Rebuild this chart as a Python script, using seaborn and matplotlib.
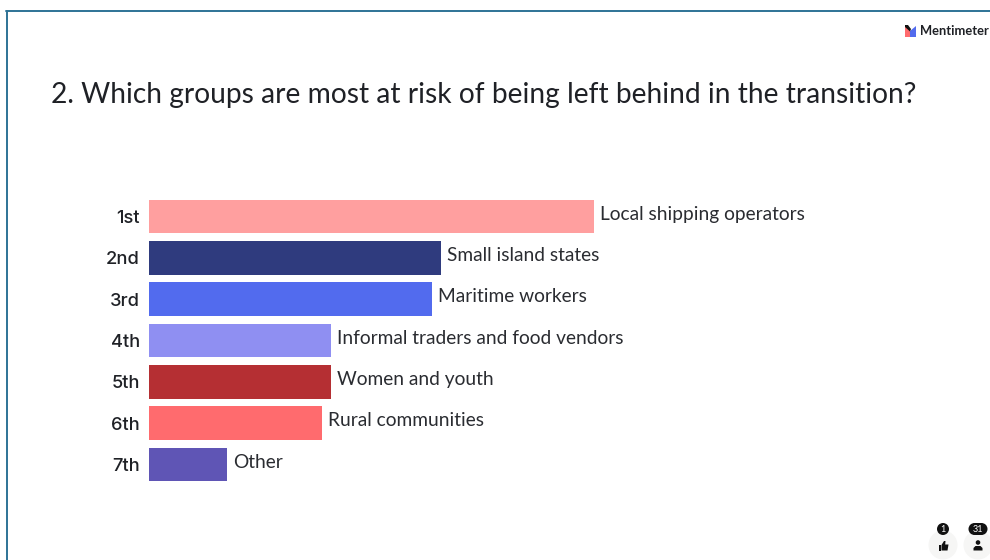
import matplotlib
matplotlib.use("Agg")
import matplotlib.pyplot as plt
from matplotlib.patches import Circle, Polygon, Rectangle
import pandas as pd
import seaborn as sns

# Poll results, in rank order
ranks = ["1st", "2nd", "3rd", "4th", "5th", "6th", "7th"]
groups = [
    "Local shipping operators",
    "Small island states",
    "Maritime workers",
    "Informal traders and food vendors",
    "Women and youth",
    "Rural communities",
    "Other",
]
scores = [49.0, 32.2, 31.2, 20.1, 20.1, 19.1, 8.6]
bar_colors = ["#FF9F9F", "#2F3B7E", "#526BEE", "#8F8FF2", "#B52F33", "#FF6B6E", "#5F55B5"]

title = "2. Which groups are most at risk of being left behind in the transition?"
brand = "Mentimeter"
likes = "1"
voters = "31"

W, H = 990, 560
FONT = "Lato"
INK = "#1F2126"

sns.set_theme(style="white")
plt.rcParams["font.family"] = [FONT, "DejaVu Sans"]

df = pd.DataFrame({"rank": ranks, "group": groups, "score": scores})

fig = plt.figure(figsize=(W / 100, H / 100), dpi=100, facecolor="white")


def fit_width(text_obj, target_px):
    """Scale a text's font size so that it spans the given pixel width."""
    renderer = fig.canvas.get_renderer()
    current = text_obj.get_window_extent(renderer).width
    text_obj.set_fontsize(text_obj.get_fontsize() * target_px / current)


# Bar chart region, placed in pixel terms: ranks centred from y=216.5 to y=464.5
row_step = (464.5 - 216.5) / 6
ax_top = 216.5 - row_step / 2
ax_bottom = 464.5 + row_step / 2
ax_left, ax_width = 148.8, 545
ax = fig.add_axes([ax_left / W, 1 - ax_bottom / H, ax_width / W, (ax_bottom - ax_top) / H])

sns.barplot(
    data=df, y="rank", x="score", hue="rank", palette=bar_colors,
    order=ranks, hue_order=ranks, legend=False, width=0.81,
    saturation=1, linewidth=0, ax=ax,
)
ax.set_xlim(0, 60)
ax.set_xlabel("")
ax.set_ylabel("")
ax.xaxis.set_visible(False)
sns.despine(ax=ax, left=True, bottom=True, top=True, right=True)
ax.tick_params(axis="y", length=0, pad=6.5, labelsize=13.2, labelcolor=INK)
for lab in ax.get_yticklabels():
    lab.set_fontfamily(["Inter", "DejaVu Sans"])
    lab.set_fontweight("medium")
ax.patch.set_alpha(0)

# Group names beside each bar, sitting a little above the bar centre
for i, (name, val) in enumerate(zip(groups, scores)):
    label = ax.annotate(name, (val, i), xytext=(4.3, 1.7), textcoords="offset points",
                        va="center", ha="left", fontsize=14.5, color="#2A2C31")
    if i == 3:
        fit_size = label
fit_width(fit_size, 287)
for t in ax.texts:
    t.set_fontsize(fit_size.get_fontsize())

# Slide furniture drawn in pixel coordinates on a full-figure overlay
ov = fig.add_axes([0, 0, 1, 1], zorder=5)
ov.set_xlim(0, W)
ov.set_ylim(H, 0)
ov.axis("off")

ov.add_line(plt.Line2D([6.5, 6.5], [11, H], color="#2E7396", lw=1.4))
ov.add_line(plt.Line2D([6, W], [11, 11], color="#2E7396", lw=1.4))

title_text = ov.text(51, 95.5, title, fontsize=21, color=INK, va="center", ha="left")
fit_width(title_text, 864)

# Brand mark and wordmark
ov.add_patch(Polygon([(905, 26), (910, 31), (910, 37), (905, 37)], color="#FF6B6E", lw=0))
ov.add_patch(Polygon([(910, 31), (916, 26), (916, 37), (910, 37)], color="#526BEE", lw=0))
ov.add_patch(Polygon([(905, 25), (908, 25), (911, 29), (910, 31.5), (905, 27)], color="#111111", lw=0))
brand_text = ov.text(920, 31, brand, fontsize=10, color=INK, va="center", ha="left", fontweight="bold")
fit_width(brand_text, 69)

# Reaction and participant counters
for cx in (943, 978):
    ov.add_patch(Circle((cx, 545), 14.5, color="#F6F6F5", lw=0))
ov.add_patch(Circle((943, 529), 6, color="#111111", lw=0))
ov.add_patch(Circle((974.5, 529), 6, color="#111111", lw=0))
ov.add_patch(Circle((981.5, 529), 6, color="#111111", lw=0))
ov.add_patch(Rectangle((974.5, 523), 7, 12, color="#111111", lw=0))
ov.text(943, 529.3, likes, fontsize=6.5, color="white", ha="center", va="center")
ov.text(978, 529.3, voters, fontsize=6.5, color="white", ha="center", va="center")

# Thumbs-up glyph
ov.add_patch(Rectangle((938.5, 545), 2.4, 5.5, color="#111111", lw=0))
ov.add_patch(Polygon([(941.5, 545), (944, 541), (945.5, 541), (945.2, 544.5),
                      (948.5, 544.5), (947.5, 550.5), (941.5, 550.5)], color="#111111", lw=0))
# Person glyph
ov.add_patch(Circle((978, 542.5), 2.3, color="#111111", lw=0))
ov.add_patch(Polygon([(973.5, 550.5), (973.5, 548), (975.5, 546), (980.5, 546),
                      (982.5, 548), (982.5, 550.5)], color="#111111", lw=0))

fig.savefig("out.png", dpi=100, facecolor="white")
